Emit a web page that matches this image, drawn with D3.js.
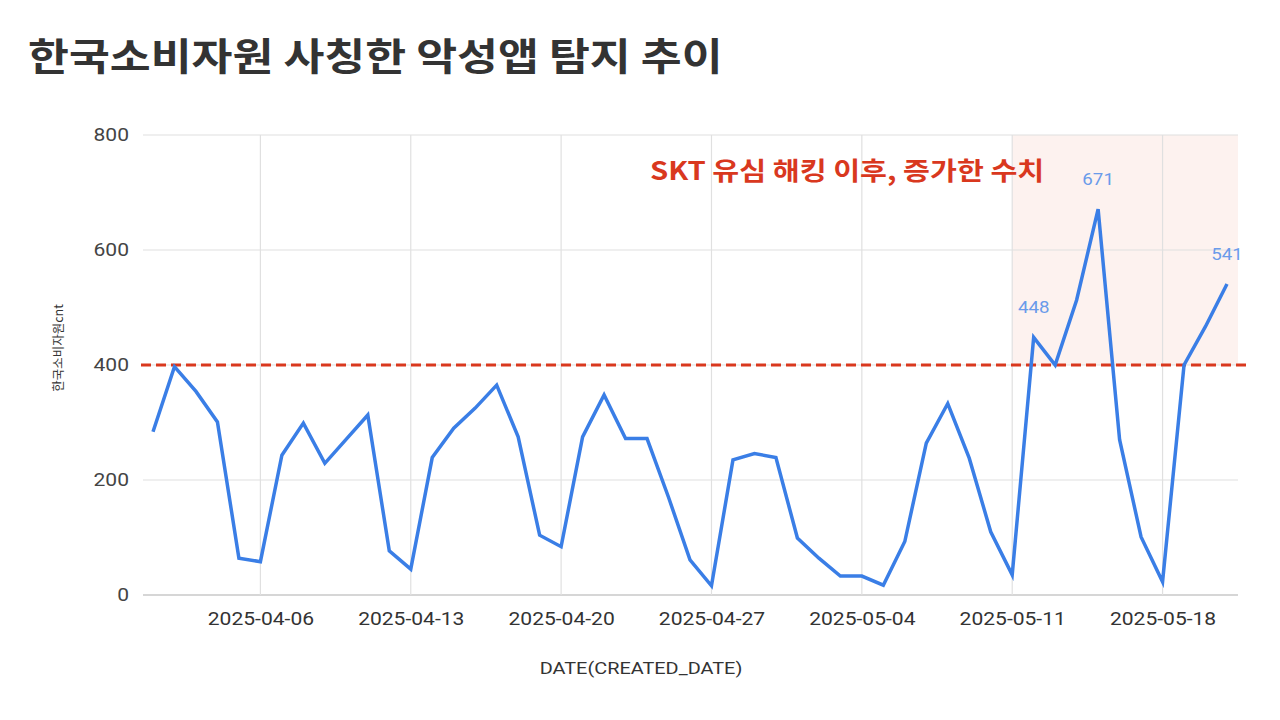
<!DOCTYPE html>
<html><head><meta charset="utf-8">
<script src="https://cdn.jsdelivr.net/npm/d3@7"></script>
<style>
html,body{margin:0;padding:0;background:#fff;}
svg{display:block;}
</style>
</head><body>
<svg id="chart" width="1280" height="720"></svg>
<script>
const title = "한국소비자원 사칭한 악성앱 탐지 추이";
const yAxisTitle = "한국소비자원cnt";
const xAxisTitle = "DATE(CREATED_DATE)";
const annotationText = "SKT 유심 해킹 이후, 증가한 수치";
const startDate = "2025-04-01";
const values = [284, 397, 354, 301, 64, 58, 243, 299, 229, 271,
                313, 77, 45, 239, 290, 325, 365, 275, 104, 84,
                275, 348, 272, 272, 170, 61, 16, 235, 246, 239,
                99, 64, 33, 33, 17, 93, 264, 333, 238, 110,
                35, 448, 400, 513, 671, 270, 101, 23, 400, 467, 541];
const xTickLabels = ["2025-04-06","2025-04-13","2025-04-20","2025-04-27","2025-05-04","2025-05-11","2025-05-18"];
const yTicks = [0, 200, 400, 600, 800];
const threshold = 400;
const highlightStart = "2025-05-11";
const labelledDates = ["2025-05-12","2025-05-15","2025-05-21"];

const SX = 1.17; // horizontal text stretch seen in the reference
const parse = d3.utcParse("%Y-%m-%d");
const fmt = d3.utcFormat("%Y-%m-%d");
const d0 = parse(startDate);
const data = values.map((v, i) => ({ date: d3.utcDay.offset(d0, i), value: v }));

const svg = d3.select("#chart");
const plotLeft = 143, plotRight = 1238, plotTop = 135, plotBottom = 595;

const x = d3.scaleUtc()
  .domain([data[0].date, data[data.length - 1].date])
  .range([153, 1227]);
const y = d3.scaleLinear().domain([0, 800]).range([plotBottom, plotTop]);

function stretchedText(px, py) {
  return svg.append("text")
    .attr("transform", `translate(${px},${py}) scale(${SX},1)`);
}

// title
stretchedText(28, 70)
  .attr("font-family", "'Noto Sans CJK KR', sans-serif")
  .attr("font-size", 38).attr("font-weight", 700)
  .attr("fill", "#333")
  .text(title);

// highlight region
svg.append("rect")
  .attr("x", x(parse(highlightStart)))
  .attr("y", y(800))
  .attr("width", plotRight - x(parse(highlightStart)))
  .attr("height", y(threshold) - y(800))
  .attr("fill", "#fdf2ef");

// horizontal gridlines
svg.append("g").selectAll("line").data(yTicks).join("line")
  .attr("x1", plotLeft).attr("x2", plotRight)
  .attr("y1", d => y(d)).attr("y2", d => y(d))
  .attr("stroke", d => d === 0 ? "#c8c8c8" : "#e0e0e0")
  .attr("stroke-width", d => d === 0 ? 1.5 : 1.2);

// vertical gridlines
const xTicks = xTickLabels.map(parse);
svg.append("g").selectAll("line").data(xTicks).join("line")
  .attr("x1", d => x(d)).attr("x2", d => x(d))
  .attr("y1", plotTop).attr("y2", plotBottom)
  .attr("stroke", "#e0e0e0").attr("stroke-width", 1.2);

// y axis labels
const yAxis = d3.axisLeft(y).tickValues(yTicks).tickSize(0).tickPadding(0);
const gy = svg.append("g").attr("transform", `translate(129,0)`).call(yAxis);
gy.select(".domain").remove();
gy.selectAll("text")
  .attr("transform", `scale(${SX},1)`)
  .attr("font-family", "Roboto, sans-serif")
  .attr("font-size", 18).attr("fill", "#444");

// x axis labels
const xAxis = d3.axisBottom(x).tickValues(xTicks).tickFormat(fmt).tickSize(0).tickPadding(0);
const gx = svg.append("g").attr("transform", `translate(0,612)`).call(xAxis);
gx.select(".domain").remove();
gx.selectAll("text")
  .attr("transform", `scale(${SX},1)`)
  .attr("font-family", "Roboto, sans-serif")
  .attr("font-size", 18).attr("fill", "#333");

// axis titles
stretchedText(641, 674)
  .attr("text-anchor", "middle")
  .attr("font-family", "Roboto, sans-serif")
  .attr("font-size", 17).attr("fill", "#333")
  .text(xAxisTitle);
svg.append("text")
  .attr("transform", "translate(63,348) rotate(-90)")
  .attr("text-anchor", "middle")
  .attr("font-family", "'Noto Sans CJK KR', sans-serif")
  .attr("font-size", 12.5).attr("fill", "#333")
  .text(yAxisTitle);

// threshold line
svg.append("line")
  .attr("x1", 141).attr("x2", 1248)
  .attr("y1", y(threshold)).attr("y2", y(threshold))
  .attr("stroke", "#d9381e").attr("stroke-width", 3)
  .attr("stroke-dasharray", "10,5");

// data line
svg.append("path")
  .datum(data)
  .attr("fill", "none")
  .attr("stroke", "#3a7ee6")
  .attr("stroke-width", 3.5)
  .attr("stroke-linejoin", "miter")
  .attr("d", d3.line().x(d => x(d.date)).y(d => y(d.value)));

// value labels
const labelled = data.filter(d => labelledDates.includes(fmt(d.date)));
svg.append("g").selectAll("text").data(labelled).join("text")
  .attr("transform", d => `translate(${x(d.date)},${y(d.value) - 24}) scale(${SX},1)`)
  .attr("text-anchor", "middle")
  .attr("font-family", "Roboto, sans-serif")
  .attr("font-size", 16).attr("fill", "#6a9bea")
  .text(d => d.value);

// annotation
stretchedText(650, 180)
  .attr("font-family", "'Noto Sans CJK KR', sans-serif")
  .attr("font-size", 25).attr("font-weight", 700)
  .attr("fill", "#d9381e")
  .text(annotationText);
</script>
</body></html>
